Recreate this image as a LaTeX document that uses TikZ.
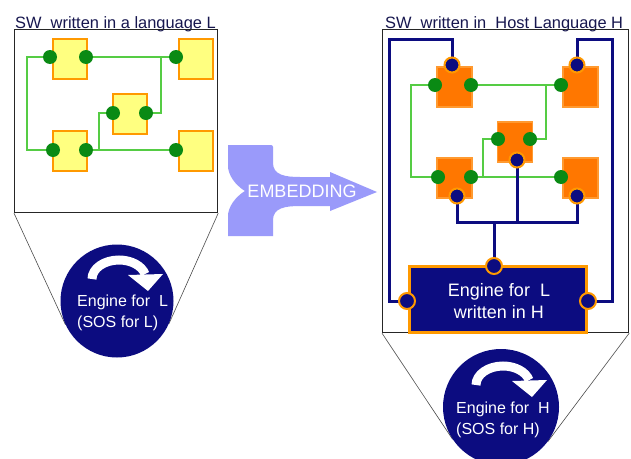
\documentclass[tikz,border=0pt]{standalone}
\usepackage{fontspec}
\setmainfont{Liberation Sans}
\usetikzlibrary{calc,backgrounds}
\definecolor{navy}{HTML}{0C0C80}
\definecolor{titlec}{HTML}{16164E}
\definecolor{ylw}{HTML}{FFFF80}
\definecolor{orng}{HTML}{FF9900}
\definecolor{orbord}{HTML}{FF9A30}
\definecolor{orfill}{HTML}{FF7700}
\definecolor{gdotc}{HTML}{0A8A14}
\definecolor{glinec}{HTML}{55CC44}
\definecolor{embc}{HTML}{9A9AFA}
\begin{document}
\begin{tikzpicture}[x=1pt,y=-1pt,
  ybox/.style={draw=orng, line width=2pt, fill=ylw, minimum width=34pt, minimum height=40pt, inner sep=0pt},
  obox/.style={draw=orbord, line width=1.5pt, fill=orfill, minimum width=35pt, minimum height=40pt, inner sep=0pt},
  gdot/.style={circle, fill=gdotc, minimum size=14pt, inner sep=0pt},
  ndot/.style={circle, fill=navy, draw=orng, line width=2pt, minimum size=15pt, inner sep=0pt},
  gline/.style={draw=glinec, line width=2.5pt},
  nline/.style={draw=navy, line width=3pt},
  framebox/.style={draw=black!85, line width=1.2pt, inner sep=0pt, anchor=north west},
  cone/.style={draw=black!70, line width=0.6pt},
  title/.style={text=titlec, font=\fontsize{16.4}{18}\selectfont, inner sep=0pt, anchor=base west},
  wtext/.style={text=white, align=left, font=\fontsize{16}{21}\selectfont, inner sep=0pt},
  engcirc/.style={circle, fill=navy, inner sep=0pt},
  curarrow/.pic={
    \draw[white, line width=9pt] (-25,-22) arc[start angle=180, end angle=345, x radius=27, y radius=19];
    \fill[white] (11,-26) -- (46,-27) -- (31,-10) -- cycle;
  }
]
\path[use as bounding box] (0,0) rectangle (631,458);
\clip (0,0) rectangle (631,458);

% ---------------- left panel ----------------
\node[title] (t1) at (15,28) {SW\ \ written in a language L};
\node[framebox, minimum width=203pt, minimum height=183pt] (f1) at (14,29) {};

\node[ybox] (y1) at (69.5,59) {};
\node[ybox] (y2) at (195.5,59) {};
\node[ybox] (y3) at (129.5,114) {};
\node[ybox] (y4) at (69.5,151) {};
\node[ybox] (y5) at (195.5,151) {};

\node[gdot] (a1) at (50,57) {};
\node[gdot] (a2) at (86,57) {};
\node[gdot] (b1) at (176,57) {};
\node[gdot] (c1) at (113,113) {};
\node[gdot] (c2) at (146,113) {};
\node[gdot] (d1) at (53,150) {};
\node[gdot] (d2) at (86,150) {};
\node[gdot] (e1) at (176,150) {};
\coordinate (j1) at (161,57);
\coordinate (j2) at (99,150);
\coordinate (k1) at (27,57);

\node[engcirc, minimum size=113pt] (eng1) at (117,301) {};
\pic at (eng1.center) {curarrow};
\node[wtext, anchor=north west] (et1) at (77,295) {Engine for\ \ L\\(SOS for L)};

% ---------------- embedding arrow ----------------
\fill[embc] (228,145) -- (271,145) to[out=0,in=90] (273,147) -- (273,163)
  .. controls (273,175) and (285,177) .. (300,177) -- (330,177) -- (330,172)
  -- (377,192) -- (330,211) -- (330,206) -- (300,206)
  .. controls (285,206) and (273,208) .. (273,220) -- (273,236) -- (228,236) -- (228,214)
  .. controls (230,202) and (240,194) .. (245,191)
  .. controls (240,188) and (230,180) .. (228,168) -- cycle;
\node[text=white, font=\fontsize{18}{20}\selectfont, inner sep=0pt] (emb) at (302,191) {EMBEDDING};

% ---------------- right panel ----------------
\node[title] (t2) at (385,28) {SW\ \ written in\ \ Host Language H};
\node[framebox, minimum width=246pt, minimum height=303pt] (f2) at (382,29) {};

\node[obox] (o1) at (454.5,87) {};
\node[obox] (o2) at (580.5,87) {};
\node[obox] (o3) at (515,142) {};
\node[obox] (o4) at (454.5,178) {};
\node[obox] (o5) at (580.5,178) {};

\node[gdot] (g1) at (435,85) {};
\node[gdot] (g2) at (471,85) {};
\node[gdot] (g3) at (561,85) {};
\node[gdot] (g4) at (498,139) {};
\node[gdot] (g5) at (530,139) {};
\node[gdot] (g6) at (438,177) {};
\node[gdot] (g7) at (471,177) {};
\node[gdot] (g8) at (561,177) {};
\coordinate (j3) at (546,85);
\coordinate (j4) at (483,177);
\coordinate (k2) at (411,85);

\node[ndot] (n1) at (452,65) {};
\node[ndot] (n2) at (577,65) {};
\node[ndot] (n3) at (517,160) {};
\node[ndot] (n4) at (457,196) {};
\node[ndot] (n5) at (577,196) {};

\node[fill=navy, draw=orng, line width=3pt, minimum width=177pt, minimum height=66pt, inner sep=0pt] (engbox) at (497.5,299) {};
\node[text=white, align=center, font=\fontsize{18}{22}\selectfont, inner sep=0pt] (engtxt) at (499,301) {Engine for\ \ L\\written in H};
\node[ndot, minimum size=16pt] (pT) at (494,266) {};
\node[ndot, minimum size=16pt] (pL) at (407,301) {};
\node[ndot, minimum size=16pt] (pR) at (588,301) {};
\coordinate (m1) at (457,222);
\coordinate (m2) at (517,222);
\coordinate (m3) at (494,222);
\coordinate (u1) at (389,39);
\coordinate (u2) at (612,39);

\node[engcirc, minimum size=116pt] (eng2) at (501,407) {};
\pic at (eng2.center) {curarrow};
\node[wtext, anchor=north west] (et2) at (456,402) {Engine for\ \ H\\(SOS for H)};

% ---------------- connectors behind ----------------
\begin{scope}[on background layer]
  \fill[white] (0,0) rectangle (631,458);
  \draw[cone] (f1.south west) -- (tangent cs:node=eng1, point={(f1.south west)}, solution=1);
  \draw[cone] (f1.south east) -- (tangent cs:node=eng1, point={(f1.south east)}, solution=2);
  \draw[cone] (f2.south west) -- (tangent cs:node=eng2, point={(f2.south west)}, solution=1);
  \draw[cone] (f2.south east) -- (tangent cs:node=eng2, point={(f2.south east)}, solution=2);

  \draw[gline] (a1.center) -- (k1) |- (d1.center);
  \draw[gline] (a2.center) -- (b1.center);
  \draw[gline] (j1) |- (c2.center);
  \draw[gline] (d2.center) -- (e1.center);
  \draw[gline] (j2) |- (c1.center);

  \draw[gline] (g1.center) -- (k2) |- (g6.center);
  \draw[gline] (g2.center) -- (g3.center);
  \draw[gline] (j3) |- (g5.center);
  \draw[gline] (g7.center) -- (g8.center);
  \draw[gline] (j4) |- (g4.center);

  \draw[nline] (n1.center) |- (u1) |- (pL.center);
  \draw[nline] (n2.center) |- (u2) |- (pR.center);
  \draw[nline] (n4.center) -- (m1) -| (n5.center);
  \draw[nline] (n3.center) -- (m2);
  \draw[nline] (m3) -- (pT.center);
\end{scope}
\end{tikzpicture}
\end{document}
